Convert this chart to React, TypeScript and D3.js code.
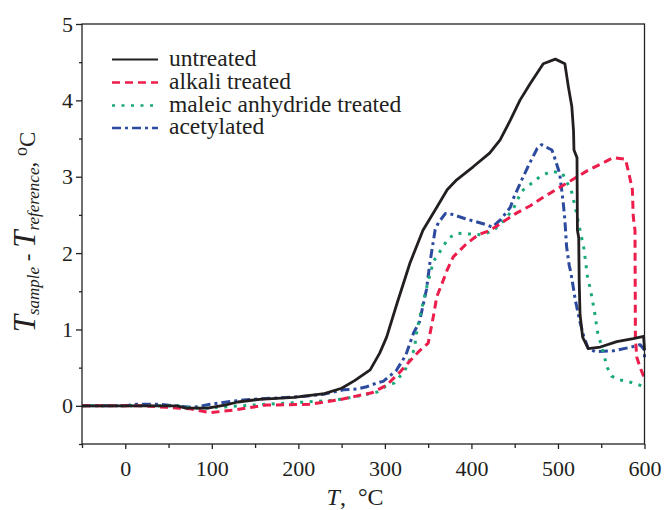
import { useEffect, useRef } from 'react';
import * as d3 from 'd3';

// series names + styles for the legend
const seriesNames = ['untreated', 'alkali treated', 'maleic anhydride treated', 'acetylated'];

// untreated (black, solid)
const untreatedT = [-50, 60, 70, 95, 115, 130, 155, 195, 230, 250, 265, 283, 294, 302, 314, 329, 344, 360, 372, 383, 402, 421, 433, 445, 456, 468, 483, 497, 508, 512, 516, 518, 518.5, 522, 522.5, 524, 524.5, 525.5, 528.5, 535, 549, 568, 587, 599, 600];
const untreatedV = [0, 0, -0.03, -0.03, 0.01, 0.05, 0.085, 0.11, 0.16, 0.23, 0.33, 0.47, 0.69, 0.9, 1.34, 1.87, 2.3, 2.6, 2.83, 2.96, 3.13, 3.31, 3.48, 3.74, 4.0, 4.22, 4.48, 4.54, 4.48, 4.18, 3.92, 3.6, 3.35, 3.25, 2.3, 2.2, 1.65, 1.2, 0.9, 0.75, 0.77, 0.84, 0.88, 0.91, 0.73];

// alkali treated (red, dashed)
const alkaliT = [-50, 20, 48, 75, 98, 129, 163, 213, 248, 268, 285, 302, 318, 330, 340, 350, 356, 360, 366, 372, 379, 395, 408, 422, 438, 453, 468, 483, 499, 518, 534, 550, 564, 578, 582, 586, 587, 589, 589.5, 591, 595, 600];
const alkaliV = [0, 0, -0.02, -0.04, -0.09, -0.05, 0.01, 0.02, 0.08, 0.13, 0.17, 0.27, 0.45, 0.6, 0.72, 0.82, 1.17, 1.43, 1.6, 1.78, 1.95, 2.13, 2.24, 2.3, 2.42, 2.53, 2.62, 2.73, 2.84, 2.97, 3.08, 3.17, 3.25, 3.23, 3.04, 2.83, 2.48, 2.3, 0.9, 0.64, 0.5, 0.36];

// maleic anhydride treated (green, dotted)
const maleicT = [-50, 60, 79, 94, 120, 148, 194, 237, 252, 283, 291, 300, 311, 323, 334, 337, 348, 356, 366, 373, 383, 412, 425, 437, 448, 458, 468, 479, 492, 505, 510, 515, 520, 524, 530, 534, 537, 542, 546, 550, 557, 562, 571, 581, 589, 600];
const maleicV = [0, 0, -0.03, -0.03, -0.01, 0.01, 0.04, 0.07, 0.09, 0.16, 0.18, 0.25, 0.3, 0.46, 0.74, 0.99, 1.54, 1.89, 2.06, 2.19, 2.26, 2.24, 2.29, 2.42, 2.57, 2.81, 2.9, 3.0, 3.07, 3.05, 2.93, 2.84, 2.6, 2.38, 2.06, 1.7, 1.55, 1.25, 0.95, 0.8, 0.5, 0.39, 0.34, 0.32, 0.29, 0.25];

// acetylated (blue, dash-dot)
const acetylT = [-50, 0, 13, 40, 55, 79, 98, 117, 140, 171, 202, 229, 252, 268, 279, 291, 298, 313, 324, 333, 340, 348, 352, 358, 362, 370, 374, 393, 418, 424, 434, 445, 449, 457, 467, 476, 481, 493, 497, 502, 506, 508, 510, 513, 515, 520, 525, 530, 535, 543, 564, 585, 595, 600, 600];
const acetylV = [0, 0, 0.02, 0.02, 0, -0.02, 0.02, 0.05, 0.08, 0.1, 0.12, 0.15, 0.21, 0.22, 0.25, 0.3, 0.32, 0.46, 0.66, 0.95, 1.1, 1.52, 1.87, 2.3, 2.4, 2.52, 2.52, 2.45, 2.37, 2.34, 2.44, 2.6, 2.73, 2.93, 3.17, 3.37, 3.42, 3.35, 3.22, 3.04, 2.67, 2.43, 2.08, 1.84, 1.74, 1.39, 1.12, 0.9, 0.75, 0.71, 0.72, 0.77, 0.8, 0.73, 0.6];

const xMajor = [0, 100, 200, 300, 400, 500, 600];
const xMinor = [-50, 50, 150, 250, 350, 450, 550];
const yMajor = [0, 1, 2, 3, 4, 5];
const yMinor = [-0.5, 0.5, 1.5, 2.5, 3.5, 4.5];

const colors = ['#231f20', '#ec1c4b', '#1aa97a', '#2c4a9e'];
const dashes = ['none', '8,5', '3,6.5', '9,4,3,4'];

const App = () => {
    const chartRef = useRef<HTMLDivElement>(null);

    useEffect(() => {
        const width = 669, height = 510;
        const left = 82, right = 644.5, top = 24, bottom = 444;
        const font = 'Liberation Serif, DejaVu Serif, serif';

        const svg = d3.select(chartRef.current)
            .append('svg')
            .attr('width', width)
            .attr('height', height)
            .style('position', 'absolute')
            .style('left', 0)
            .style('top', 0)
            .style('background', '#fff')
            .style('font-family', font);

        const x = d3.scaleLinear().domain([-50, 600]).range([left, right]);
        const y = d3.scaleLinear().domain([-0.5, 5]).range([bottom, top]);

        const series = [
            { t: untreatedT, v: untreatedV },
            { t: alkaliT, v: alkaliV },
            { t: maleicT, v: maleicV },
            { t: acetylT, v: acetylV },
        ];

        const line = d3.line<[number, number]>()
            .x(d => x(d[0]))
            .y(d => y(d[1]));

        // draw back to front: blue, green, red, black last
        [3, 2, 1, 0].forEach(i => {
            const s = series[i];
            const pts = s.t.map((t, j) => [t, s.v[j]] as [number, number]);
            svg.append('path')
                .attr('d', line(pts))
                .attr('fill', 'none')
                .attr('stroke', colors[i])
                .attr('stroke-width', i === 0 ? 2.8 : 3)
                .attr('stroke-dasharray', dashes[i])
                .attr('stroke-linejoin', 'round');
        });

        // frame
        svg.append('rect')
            .attr('x', left).attr('y', top)
            .attr('width', right - left).attr('height', bottom - top)
            .attr('fill', 'none')
            .attr('stroke', '#222')
            .attr('stroke-width', 1.3);

        const styleAxis = (g: any) => {
            g.attr('font-family', null).attr('font-size', null);
            g.select('.domain').remove();
            g.selectAll('line').attr('stroke', '#222').attr('stroke-width', 1.3);
            g.selectAll('text')
                .style('font-family', font)
                .attr('font-size', 22)
                .attr('fill', '#231f20');
        };

        svg.append('g')
            .attr('transform', `translate(0,${bottom})`)
            .call(d3.axisBottom(x).tickValues(xMajor).tickSize(5).tickPadding(11).tickFormat(d3.format('d')))
            .call(styleAxis);
        svg.append('g')
            .attr('transform', `translate(0,${bottom})`)
            .call(d3.axisBottom(x).tickValues(xMinor).tickSize(4).tickFormat(() => ''))
            .call(styleAxis);

        svg.append('g')
            .attr('transform', `translate(${left},0)`)
            .call(d3.axisLeft(y).tickValues(yMajor).tickSize(6).tickPadding(3).tickFormat(d3.format('d')))
            .call(styleAxis);
        svg.append('g')
            .attr('transform', `translate(${left},0)`)
            .call(d3.axisLeft(y).tickValues(yMinor).tickSize(3).tickFormat(() => ''))
            .call(styleAxis);

        // legend
        const legY = [59.5, 82.5, 105.5, 128];
        seriesNames.forEach((name, i) => {
            svg.append('line')
                .attr('x1', 112).attr('x2', 158)
                .attr('y1', legY[i]).attr('y2', legY[i])
                .attr('stroke', colors[i])
                .attr('stroke-width', i === 0 ? 2.2 : 2.6)
                .attr('stroke-dasharray', dashes[i]);
            svg.append('text')
                .attr('x', 169)
                .attr('y', legY[i] + 6)
                .style('font-family', font)
                .attr('font-size', 23.5)
                .attr('fill', '#231f20')
                .text(name);
        });

        // x label
        const xl = svg.append('text')
            .attr('x', 355)
            .attr('y', 505)
            .attr('text-anchor', 'middle')
            .style('font-family', font)
            .attr('font-size', 24)
            .attr('fill', '#231f20');
        xl.append('tspan').attr('font-style', 'italic').text('T');
        xl.append('tspan').attr('xml:space', 'preserve').text(',\u00a0\u00a0°C');

        // y label
        const yl = svg.append('text')
            .attr('transform', 'translate(35,232) rotate(-90)')
            .attr('text-anchor', 'middle')
            .style('font-family', font)
            .attr('font-size', 23)
            .attr('fill', '#231f20');
        yl.append('tspan').attr('font-style', 'italic').attr('font-size', 31).text('T');
        yl.append('tspan').attr('font-style', 'italic').attr('font-size', 17).attr('dy', 4).text('sample');
        yl.append('tspan').attr('dy', -4).text(' - ');
        yl.append('tspan').attr('font-style', 'italic').attr('font-size', 31).text('T');
        yl.append('tspan').attr('font-style', 'italic').attr('font-size', 17).attr('dy', 4).text('reference');
        yl.append('tspan').attr('dy', -4).text(', ');
        yl.append('tspan').attr('font-size', 18).attr('dy', -8).text('o');
        yl.append('tspan').attr('dy', 8).text('C');

        return () => {
            d3.select(chartRef.current).select('svg').remove();
        };
    }, []);

    return <div ref={chartRef}></div>;
};

export default App;
